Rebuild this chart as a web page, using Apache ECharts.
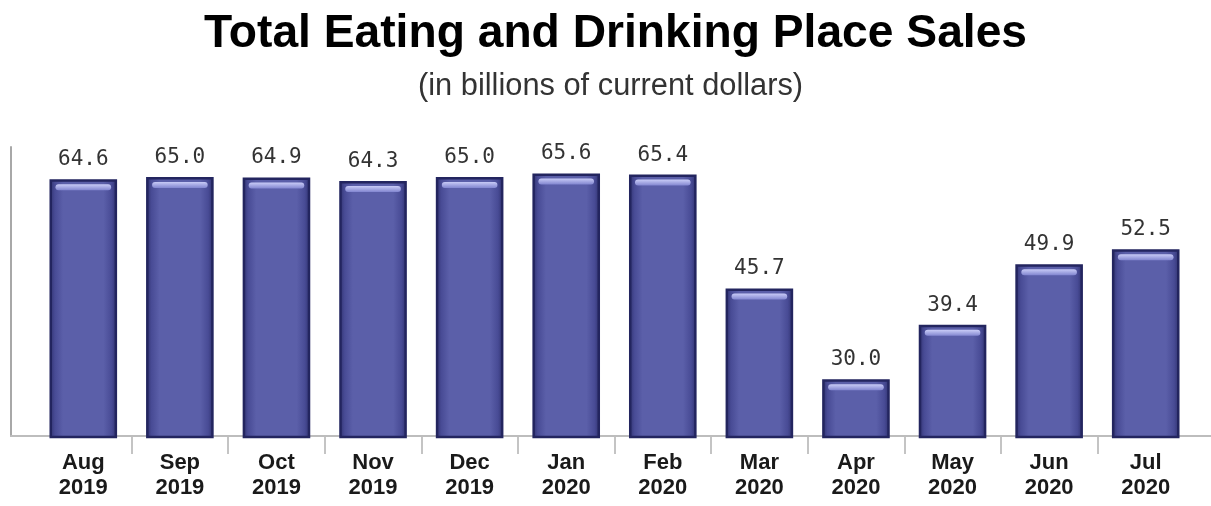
<!DOCTYPE html>
<html>
<head>
<meta charset="utf-8">
<script src="https://cdn.jsdelivr.net/npm/echarts@6/dist/echarts.min.js"></script>
<style>
html,body{margin:0;padding:0;background:#fff;}
#chart{width:1211px;height:506px;}
</style>
</head>
<body>
<div id="chart"></div>
<script>
const categories = ['Aug\n2019','Sep\n2019','Oct\n2019','Nov\n2019','Dec\n2019','Jan\n2020','Feb\n2020','Mar\n2020','Apr\n2020','May\n2020','Jun\n2020','Jul\n2020'];
const sales = [64.6, 65.0, 64.9, 64.3, 65.0, 65.6, 65.4, 45.7, 30.0, 39.4, 49.9, 52.5];
const titleText = 'Total Eating and Drinking Place Sales';
const subtitleText = '(in billions of current dollars)';

const chart = echarts.init(document.getElementById('chart'), null, {renderer:'canvas'});
const barRatio = 0.7;
const gridLeft = 35, gridRight = 17;
const band = (1211 - gridLeft - gridRight) / categories.length;
chart.setOption({
  animation: false,
  backgroundColor: '#ffffff',
  title: [
    {text: titleText, left: 199, top: 6,
     textStyle: {fontFamily: 'Liberation Sans', fontWeight: 'bold', fontSize: 46.2, color: '#000'}},
    {text: subtitleText, left: 413, top: 66,
     textStyle: {fontFamily: 'Liberation Sans', fontWeight: 'normal', fontSize: 30.8, color: '#333'}}
  ],
  grid: [
    {left: gridLeft, right: gridRight, top: 148, bottom: 69},
    {left: 11, right: -5, top: 147, bottom: 70},
    {left: gridLeft + band, right: gridRight + band, top: 148, bottom: 69}
  ],
  xAxis: [
    {type: 'category', data: categories, gridIndex: 0, boundaryGap: true,
     axisLine: {show: false},
     axisTick: {show: false},
     axisLabel: {interval: 0, margin: 13, fontFamily: 'Liberation Sans', fontWeight: 'bold', fontSize: 22, lineHeight: 25, color: '#1a1a1a'}},
    {type: 'value', gridIndex: 1, min: 0, max: 1,
     axisLine: {show: true, lineStyle: {color: '#bdbdbd', width: 2}},
     axisTick: {show: false}, axisLabel: {show: false}, splitLine: {show: false}},
    {type: 'value', gridIndex: 2, min: 1, max: categories.length - 1, interval: 1,
     axisLine: {show: false},
     axisTick: {show: true, length: 17, lineStyle: {color: '#c4c4c4', width: 2}},
     axisLabel: {show: false}, splitLine: {show: false}}
  ],
  yAxis: [
    {type: 'value', gridIndex: 0, min: 20, max: 70,
     axisLine: {show: false}, axisTick: {show: false}, axisLabel: {show: false}, splitLine: {show: false}},
    {type: 'value', gridIndex: 1, min: 0, max: 1,
     axisLine: {show: true, lineStyle: {color: '#a8a8a8', width: 2}},
     axisTick: {show: false}, axisLabel: {show: false}, splitLine: {show: false}},
    {type: 'value', gridIndex: 2, min: 0, max: 1, show: false}
  ],
  series: [
    {
      type: 'bar', xAxisIndex: 0, yAxisIndex: 0, data: sales,
      barWidth: (barRatio*100) + '%',
      itemStyle: {
        color: new echarts.graphic.LinearGradient(0, 0, 1, 0, [
          {offset: 0, color: '#2e306c'},
          {offset: 0.08, color: '#484b95'},
          {offset: 0.2, color: '#5b5fa9'},
          {offset: 0.8, color: '#5b5fa9'},
          {offset: 0.92, color: '#484b95'},
          {offset: 1, color: '#2e306c'}
        ]),
        borderColor: '#23255f', borderWidth: 2.5
      },
      label: {show: true, position: 'top', distance: 9,
        formatter: function(p){ return p.value.toFixed(1); },
        fontFamily: 'DejaVu Sans Mono', fontSize: 21, color: '#333'}
    },
    {
      type: 'custom', xAxisIndex: 0, yAxisIndex: 0,
      data: sales.map(function(v, i){ return [i, v]; }),
      silent: true, z: 3,
      renderItem: function(params, api){
        const pt = api.coord([api.value(0), api.value(1)]);
        const w = api.size([1, 0])[0] * barRatio;
        return {
          type: 'rect',
          shape: {x: pt[0] - w/2 + 6, y: pt[1] + 5, width: w - 12, height: 6, r: 3},
          style: {fill: new echarts.graphic.LinearGradient(0, 0, 0, 1, [
            {offset: 0, color: '#c9ccf7'},
            {offset: 1, color: '#8286d0'}
          ])}
        };
      }
    }
  ]
});
</script>
</body>
</html>
